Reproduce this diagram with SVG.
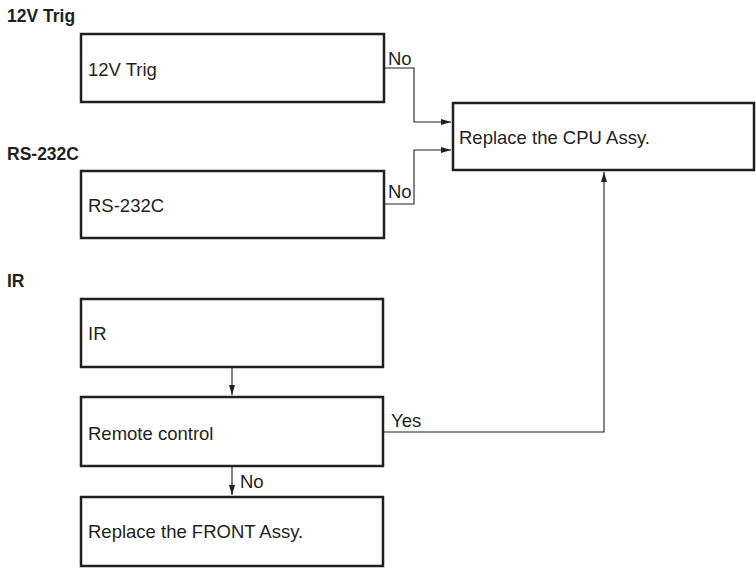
<svg xmlns="http://www.w3.org/2000/svg" width="756" height="568" viewBox="0 0 756 568">
<style>
.box{fill:#fff;stroke:#231f20;stroke-width:2.5}
.t{font-family:"Liberation Sans",Arial,sans-serif;font-size:18.5px;fill:#231f20}
.h{font-family:"Liberation Sans",Arial,sans-serif;font-size:17.5px;font-weight:bold;fill:#231f20}
.c{fill:none;stroke:#231f20;stroke-width:1.1}
</style>
<defs>
<marker id="ah" viewBox="0 0 10 6" refX="10" refY="3" markerWidth="10" markerHeight="6" markerUnits="userSpaceOnUse" orient="auto">
<path d="M0,0 L10,3 L0,6 z" fill="#231f20"/>
</marker>
</defs>
<text class="h" x="7" y="22">12V Trig</text>
<text class="h" x="7" y="160">RS-232C</text>
<text class="h" x="7" y="287">IR</text>
<g id="connectors">
<path class="c" d="M384,68 H414 V122 H451" marker-end="url(#ah)"/>
<path class="c" d="M384,204 H414 V150 H451" marker-end="url(#ah)"/>
<path class="c" d="M232,367 V395" marker-end="url(#ah)"/>
<path class="c" d="M232,466 V495" marker-end="url(#ah)"/>
<path class="c" d="M384,432 H604 V172" marker-end="url(#ah)"/>
<text class="t" x="388" y="65">No</text>
<text class="t" x="388" y="198">No</text>
<text class="t" x="391" y="427">Yes</text>
<text class="t" x="240" y="488">No</text>
</g>
<g id="n12v"><rect class="box" x="81" y="34" width="303" height="68"/><text class="t" x="88" y="76">12V Trig</text></g>
<g id="nrs"><rect class="box" x="81" y="171" width="303" height="67"/><text class="t" x="88" y="212">RS-232C</text></g>
<g id="ncpu"><rect class="box" x="453" y="103" width="301" height="67"/><text class="t" x="459" y="144">Replace the CPU Assy.</text></g>
<g id="nir"><rect class="box" x="81" y="299" width="302" height="68"/><text class="t" x="88" y="340">IR</text></g>
<g id="nremote"><rect class="box" x="81" y="397" width="302" height="69"/><text class="t" x="88" y="440">Remote control</text></g>
<g id="nfront"><rect class="box" x="81" y="497" width="302" height="69"/><text class="t" x="88" y="538">Replace the FRONT Assy.</text></g>
</svg>
